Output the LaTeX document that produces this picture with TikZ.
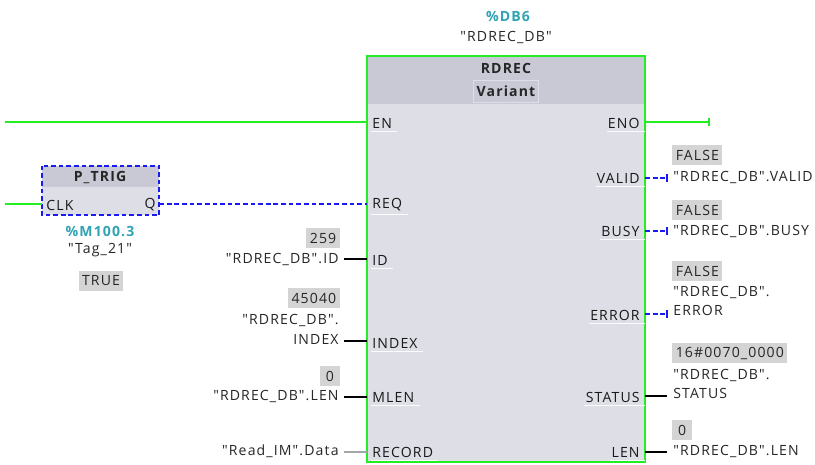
\documentclass[tikz,border=0pt]{standalone}
\usepackage{fontspec}
\setmainfont{Open Sans}[Ligatures=TeXOff, LetterSpace=8]
\usepackage{xcolor}
\usetikzlibrary{arrows.meta, positioning, calc}

\definecolor{rungreen}{HTML}{22EE22}
\definecolor{sigblue}{HTML}{1A1AF5}
\definecolor{tagteal}{HTML}{2FA3B3}
\definecolor{valgray}{HTML}{D4D4D4}
\definecolor{bodygray}{HTML}{DEDEE7}
\definecolor{headgray}{HTML}{C9C9D5}
\definecolor{txtgray}{HTML}{262626}

\begin{document}
\begin{tikzpicture}[
    x=0.03cm, y=-0.03cm,
    every node/.style={font=\fontsize{12}{17}\selectfont, text=txtgray, inner sep=1pt},
    rung/.style={
        draw=rungreen,
        line width=2pt
    },
    dashwire/.style={
        draw=sigblue,
        line width=2pt,
        dash pattern=on 4pt off 2.5pt
    },
    wire/.style={
        draw=black,
        line width=1.8pt
    },
    pinend/.style={
        -{Bar[width=6pt,line width=1.6pt]}
    },
    fbbody/.style={
        fill=bodygray,
        inner sep=0pt
    },
    pinname/.style={
        text=black!90
    },
    wert/.style={
        fill=valgray,
        inner xsep=3pt,
        inner ysep=0pt,
        minimum height=0.6cm,
        minimum width=0.6cm
    },
    tagname/.style={
        font=\fontsize{12}{17}\selectfont\bfseries,
        text=tagteal
    },
    pinul/.style={
        draw=white!90!bodygray,
        line width=0.8pt
    }
]

\useasboundingbox (0,0) rectangle (815,464);

% ============================================================
% RDREC
% ============================================================

\node[tagname] (dbnum) at (508,16) {\%DB6};
\node (dbname) at (506,37) {"RDREC\_DB"};

% Block
\node[
    fbbody,
    minimum width=8.34cm,
    minimum height=12.18cm
] (rdrec) at (506,259) {};
\fill[headgray] (rdrec.north west) rectangle (rdrec.east |- 0,104);
\draw[rung] (rdrec.north west) rectangle (rdrec.south east);

\node[font=\fontsize{12}{17}\selectfont\bfseries] (fbtype) at (506,68) {RDREC};
\node[
    font=\fontsize{12}{17}\selectfont\bfseries,
    draw=bodygray,
    line width=0.8pt,
    inner xsep=3pt,
    minimum height=0.66cm
] (fbvar) at (506,91) {Variant};

% Eingaenge
\node[pinname, anchor=west] (pEN) at (371,123) {EN};
\node[pinname, anchor=west] (pREQ) at (371,205) {REQ};
\node[pinname, anchor=west] (pID) at (371,260) {ID};
\node[pinname, anchor=west] (pINDEX) at (371,343) {INDEX};
\node[pinname, anchor=west] (pMLEN) at (371,397) {MLEN};
\node[pinname, anchor=west] (pRECORD) at (371,452) {RECORD};

% Ausgaenge
\node[pinname, anchor=east] (pENO) at (641,123) {ENO};
\node[pinname, anchor=east] (pVALID) at (641,178) {VALID};
\node[pinname, anchor=east] (pBUSY) at (641,231) {BUSY};
\node[pinname, anchor=east] (pERROR) at (641,315) {ERROR};
\node[pinname, anchor=east] (pSTATUS) at (641,397) {STATUS};
\node[pinname, anchor=east] (pLEN) at (641,452) {LEN};

% Unterstriche
\foreach \p in {EN,REQ,ID,INDEX,MLEN,RECORD,ENO,VALID,BUSY,ERROR,STATUS,LEN}
    \draw[pinul] ($(p\p.south west)+(0,2)$) -- ($(p\p.south east)+(4,2)$);

% Anschlusspunkte
\coordinate (inEN) at (rdrec.west |- 0,122);
\coordinate (inREQ) at (rdrec.west |- 0,204);
\coordinate (inID) at (rdrec.west |- 0,259);
\coordinate (inINDEX) at (rdrec.west |- 0,341);
\coordinate (inMLEN) at (rdrec.west |- 0,397);
\coordinate (inRECORD) at (rdrec.west |- 0,452);
\coordinate (outENO) at (rdrec.east |- 0,122);
\coordinate (outVALID) at (rdrec.east |- 0,178);
\coordinate (outBUSY) at (rdrec.east |- 0,231);
\coordinate (outERROR) at (rdrec.east |- 0,314);
\coordinate (outSTATUS) at (rdrec.east |- 0,396);
\coordinate (outLEN) at (rdrec.east |- 0,452);

% ============================================================
% P_TRIG
% ============================================================

\node[
    fbbody,
    minimum width=3.51cm,
    minimum height=1.47cm
] (ptrig) at (100.5,190.5) {};
\fill[headgray] (ptrig.north west) rectangle (ptrig.east |- 0,187);
\draw[dashwire] (ptrig.north west) rectangle (ptrig.south east);

\node[font=\fontsize{12}{17}\selectfont\bfseries] (ptrigname) at (100,178) {P\_TRIG};
\node[pinname, anchor=west] (pCLK) at (45,205) {CLK};
\node[pinname, anchor=east] (pQ) at (157,205) {Q};

\node[tagname] (clkaddr) at (100,231) {\%M100.3};
\node (clktag) at (100,250) {"Tag\_21"};
\node[wert] (clkval) at (101,281) {TRUE};

\coordinate (rail) at (5,122);
\coordinate (clkrail) at (5,204);
\coordinate (inCLK) at (ptrig.west |- 0,204);
\coordinate (outQ) at (ptrig.east |- 0,204);

% ============================================================
% Parameter links
% ============================================================

\node[wert, anchor=east] (idval) at (340,238) {259};
\node[anchor=east] (idtag) at (340,259) {"RDREC\_DB".ID};

\node[wert, anchor=east] (indexval) at (340,298) {45040};
\node[anchor=east, align=right] (indextag) at (340,329) {"RDREC\_DB".\\INDEX};
\coordinate (indexend) at (344,341);

\node[wert, anchor=east] (mlenval) at (340,376) {0};
\node[anchor=east] (mlentag) at (340,396) {"RDREC\_DB".LEN};

\node[anchor=east] (recordtag) at (340,451) {"Read\_IM".Data};

% ============================================================
% Parameter rechts
% ============================================================

\node[wert, anchor=west] (validval) at (672,155) {FALSE};
\node[anchor=west] (validtag) at (672,177) {"RDREC\_DB".VALID};

\node[wert, anchor=west] (busyval) at (672,210) {FALSE};
\node[anchor=west] (busytag) at (672,231) {"RDREC\_DB".BUSY};

\node[wert, anchor=west] (errorval) at (672,271) {FALSE};
\node[anchor=west, align=left] (errortag) at (672,301) {"RDREC\_DB".\\ERROR};
\coordinate (errorend) at (668,314);

\node[wert, anchor=west] (statusval) at (672,353) {16\#0070\_0000};
\node[anchor=west, align=left] (statustag) at (672,384) {"RDREC\_DB".\\STATUS};
\coordinate (statusend) at (667,396);

\node[wert, anchor=west] (lenval) at (672,430) {0};
\node[anchor=west] (lentag) at (672,451) {"RDREC\_DB".LEN};

\coordinate (enoend) at (710,122);

% ============================================================
% Verbindungen
% ============================================================

\draw[rung] (rail) -- (inEN);
\draw[rung] (clkrail) -- (inCLK);
\draw[dashwire] (outQ) -- (inREQ);

\draw[wire] (idtag.east |- inID) ++(4,0) -- (inID);
\draw[wire] (indexend) -- (inINDEX);
\draw[wire] (mlentag.east |- inMLEN) ++(4,0) -- (inMLEN);
\draw[draw=black!35, line width=1.5pt] (recordtag.east |- inRECORD) ++(4,0) -- (inRECORD);

\draw[rung, pinend] (outENO) -- (enoend);
\draw[dashwire, pinend] (outVALID) -- ($(validtag.west |- outVALID)+(-4,0)$);
\draw[dashwire, pinend] (outBUSY) -- ($(busytag.west |- outBUSY)+(-4,0)$);
\draw[dashwire, pinend] (outERROR) -- (errorend);
\draw[wire] (outSTATUS) -- (statusend);
\draw[wire] (outLEN) -- ($(lentag.west |- outLEN)+(-5,0)$);

\end{tikzpicture}
\end{document}
